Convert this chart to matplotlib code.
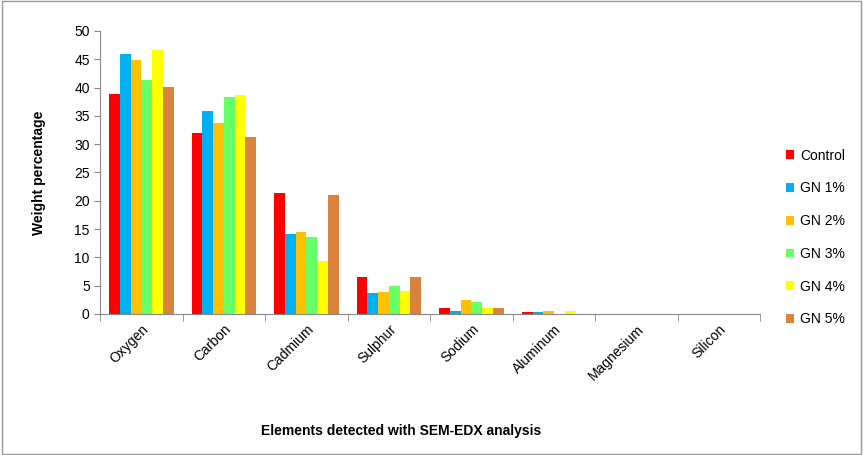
import matplotlib.pyplot as plt
import numpy as np

elements = ['Oxygen', 'Carbon', 'Cadmium', 'Sulphur', 'Sodium', 'Aluminum', 'Magnesium', 'Silicon']
series = ['Control', 'GN 1%', 'GN 2%', 'GN 3%', 'GN 4%', 'GN 5%']
control = [38.8, 32.0, 21.3, 6.6, 1.0, 0.35, 0, 0]
gn1 = [46.0, 35.8, 14.2, 3.7, 0.5, 0.35, 0, 0]
gn2 = [44.9, 33.7, 14.5, 3.9, 2.4, 0.5, 0, 0]
gn3 = [41.4, 38.3, 13.6, 4.9, 2.1, 0, 0, 0]
gn4 = [46.7, 38.7, 9.3, 4.1, 1.0, 0.5, 0, 0]
gn5 = [40.1, 31.2, 21.1, 6.6, 1.0, 0, 0, 0]
values = [control, gn1, gn2, gn3, gn4, gn5]
colors = ['#FF0000', '#00B0F0', '#FFC000', '#66FF66', '#FFFF00', '#D9843E']

plt.rcParams['font.family'] = ['Liberation Sans', 'DejaVu Sans']

fig = plt.figure(figsize=(8.63, 4.55), dpi=100)
ax = fig.add_axes([0.116, 0.31, 0.765, 0.622])

x = np.arange(len(elements))
w = 0.13
for i in range(len(series)):
    ax.bar(x + (i - 2.5) * w, values[i], w, color=colors[i], label=series[i])

ax.set_xlim(-0.5, len(elements) - 0.5)
ax.set_ylim(0, 50)
ax.set_yticks(range(0, 51, 5))
ax.set_xticks(x)
ax.set_xticklabels(elements, rotation=45, ha='right', rotation_mode='anchor', fontsize=10)
ax.set_xticks(np.arange(-0.5, len(elements)), minor=True)
ax.tick_params(axis='x', which='major', length=0, pad=6)
ax.tick_params(axis='x', which='minor', length=5, color='#888888')
ax.tick_params(axis='y', length=4, color='#888888', labelsize=10)
for s in ['top', 'right']:
    ax.spines[s].set_visible(False)
for s in ['left', 'bottom']:
    ax.spines[s].set_color('#888888')

ax.set_ylabel('Weight percentage', fontweight='bold', fontsize=10, labelpad=20)
fig.text(0.465, 0.045, 'Elements detected with SEM-EDX analysis', fontweight='bold',
         fontsize=10, ha='center')

ax.legend(loc='center left', bbox_to_anchor=(1.02, 0.27), frameon=False, fontsize=10,
          handlelength=0.6, handleheight=0.6, labelspacing=1.35, handletextpad=0.4)

fig.patches.append(plt.Rectangle((0.002, 0.002), 0.996, 0.996, transform=fig.transFigure,
                                 fill=False, edgecolor='#999999', lw=1))

plt.savefig('out.png')
